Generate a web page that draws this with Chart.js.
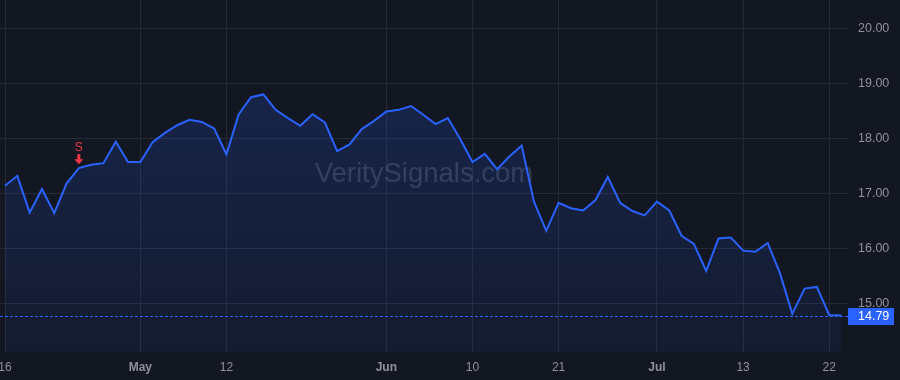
<!DOCTYPE html>
<html>
<head>
<meta charset="utf-8">
<script src="https://cdn.jsdelivr.net/npm/chart.js@4.4.0/dist/chart.umd.min.js"></script>
<style>
    html, body { margin: 0; padding: 0; background: #131722; }
    #wrap { width: 900px; height: 380px; position: relative; }
</style>
</head>
<body>
<div id="wrap"><canvas id="priceChart"></canvas></div>
<script>

const prices = [
    17.15, 17.33, 16.66, 17.09, 16.65, 17.19, 17.47, 17.53, 17.56, 17.95,
    17.58, 17.58, 17.94, 18.11, 18.25, 18.35, 18.31, 18.19, 17.72, 18.45,
    18.76, 18.81, 18.53, 18.38, 18.24, 18.45, 18.30, 17.78, 17.90, 18.18,
    18.33, 18.50, 18.53, 18.60, 18.44, 18.27, 18.38, 18.00, 17.58, 17.73,
    17.45, 17.68, 17.88, 16.86, 16.33, 16.84, 16.74, 16.70, 16.89, 17.31,
    16.84, 16.69, 16.61, 16.86, 16.70, 16.24, 16.09, 15.60, 16.19, 16.21,
    15.97, 15.95, 16.11, 15.56, 14.82, 15.28, 15.31, 14.80, 14.79
];

const tickIndex = [0, 11, 18, 31, 38, 45, 53, 60, 67];
const tickLabels = ['16', 'May', '12', 'Jun', '10', '21', 'Jul', '13', '22'];
const monthLabels = ['May', 'Jun', 'Jul'];
const yTicks = [15, 16, 17, 18, 19, 20];

const signalIndex = [6];
const signalText = ['S'];
const lastPrice = 14.79;
const watermark = 'VeritySignals.com';

const colors = {
    bg: '#131722',
    grid: '#262a36',
    line: '#2962ff',
    text: '#8f929b',
    sell: '#f23645',
    white: '#ffffff'
};

const FONT = '"Liberation Sans", Arial, sans-serif';


const overlay = {
    id: 'overlay',
    beforeDraw(chart) {
        const c = chart.ctx;
        c.save();
        c.fillStyle = colors.bg;
        c.fillRect(0, 0, chart.width, chart.height);
        c.restore();
    },
    beforeDatasetsDraw(chart) {
        const c = chart.ctx;
        const a = chart.chartArea;
        c.save();
        c.font = '27.5px ' + FONT;
        c.fillStyle = 'rgba(160, 170, 195, 0.24)';
        c.textAlign = 'center';
        c.textBaseline = 'alphabetic';
        c.fillText(watermark, (a.left + a.right) / 2, (a.top + a.bottom) / 2 + 6);
        c.restore();
    },
    afterDatasetsDraw(chart) {
        const c = chart.ctx;
        const x = chart.scales.x;
        const y = chart.scales.y;
        c.save();
        signalIndex.forEach((idx, i) => {
            const px = x.getPixelForValue(idx);
            const py = y.getPixelForValue(prices[idx]);
            const tip = py - 4;
            c.fillStyle = colors.sell;
            // arrow head
            c.beginPath();
            c.moveTo(px - 4.5, tip - 5);
            c.lineTo(px + 4.5, tip - 5);
            c.lineTo(px, tip);
            c.closePath();
            c.fill();
            // stem
            c.fillRect(px - 1.5, tip - 10, 3, 5.5);
            c.font = '12px ' + FONT;
            c.textAlign = 'center';
            c.textBaseline = 'alphabetic';
            c.fillText(signalText[i], px, tip - 13);
        });
        c.restore();
    },
    afterDraw(chart) {
        const c = chart.ctx;
        const a = chart.chartArea;
        const py = Math.round(chart.scales.y.getPixelForValue(lastPrice));
        c.save();
        // dotted price line
        c.fillStyle = colors.line;
        for (let xx = a.left; xx < a.right; xx += 5) {
            c.fillRect(xx, py, 3, 1);
        }
        c.fillRect(a.right, py - 8, 46, 17);
        c.fillStyle = colors.white;
        c.font = '12.5px ' + FONT;
        c.textAlign = 'left';
        c.textBaseline = 'middle';
        c.fillText(lastPrice.toFixed(2), a.right + 10, py + 1);
        c.restore();
    }
};


function areaFill(context) {
    const chart = context.chart;
    const a = chart.chartArea;
    if (!a) return 'rgba(41, 98, 255, 0.12)';
    const g = chart.ctx.createLinearGradient(0, a.top, 0, a.bottom);
    g.addColorStop(0, 'rgba(41, 98, 255, 0.22)');
    g.addColorStop(1, 'rgba(41, 98, 255, 0.06)');
    return g;
}


const ctx = document.getElementById('priceChart');

new Chart(ctx, {
    type: 'line',
    data: {
        datasets: [{
            data: prices.map((v, i) => ({ x: i, y: v })),
            borderColor: colors.line,
            borderWidth: 2,
            backgroundColor: areaFill,
            fill: 'start',
            pointRadius: 0,
            tension: 0
        }]
    },
    options: {
        responsive: true,
        maintainAspectRatio: false,
        animation: false,
        layout: { padding: 0 },
        plugins: {
            legend: { display: false },
            tooltip: { enabled: false }
        },
        scales: {
            x: {
                type: 'linear',
                min: -0.41,
                max: 68.53,
                afterBuildTicks: s => { s.ticks = tickIndex.map(v => ({ value: v })); },
                afterFit: s => { s.height = 28; s.paddingLeft = 0; s.paddingRight = 0; },
                border: { display: false },
                grid: { color: colors.grid, drawTicks: false },
                ticks: {
                    autoSkip: false,
                    maxRotation: 0,
                    padding: 8,
                    color: colors.text,
                    font: c => ({
                        family: FONT,
                        size: 12,
                        weight: monthLabels.includes(tickLabels[c.index]) ? 'bold' : 'normal'
                    }),
                    callback: (v, i) => tickLabels[i]
                }
            },
            y: {
                position: 'right',
                min: 14.127,
                max: 20.527,
                afterBuildTicks: s => { s.ticks = yTicks.map(v => ({ value: v })); },
                afterFit: s => { s.width = 52; s.paddingTop = 0; s.paddingBottom = 0; },
                border: { display: false },
                grid: { color: colors.grid, drawTicks: false },
                ticks: {
                    padding: 10,
                    color: colors.text,
                    font: { family: FONT, size: 12.5 },
                    callback: v => v.toFixed(2)
                }
            }
        }
    },
    plugins: [overlay]
});
</script>
</body>
</html>
